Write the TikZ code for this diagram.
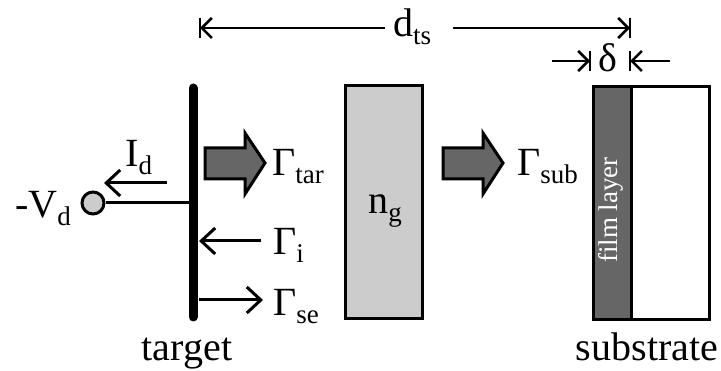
\documentclass[tikz,border=0pt]{standalone}
\usepackage{fontspec}
\setmainfont{Liberation Serif}
\usetikzlibrary{arrows.meta}
\definecolor{darkg}{HTML}{666666}
\definecolor{lightg}{HTML}{CCCCCC}
\newcommand{\sbs}[1]{\raisebox{-0.2em}{\fontsize{27}{27}\selectfont #1}}
\begin{document}
\begin{tikzpicture}[x=1pt,y=-1pt,
  lbl/.style={inner sep=0pt, font=\fontsize{40}{44}\selectfont},
  thin/.style={line width=3pt, -{Straight Barb[length=14pt,width=26pt,line width=3pt]}},
  dim/.style={line width=2.6pt, -{Straight Barb[length=10pt,width=20pt,line width=2.6pt]}},
  tick/.style={line width=2.6pt},
  box/.style={draw=black, line width=3pt},
  blockarrow/.style={draw=black, line width=3pt, fill=darkg, line join=miter}]
\useasboundingbox (0,0) rectangle (721,371);

% target bar
\coordinate (tt) at (193,88);
\coordinate (tb) at (193,317);
\draw[line width=9pt, line cap=round] (tt) -- (tb);

% gas box
\node[box, fill=lightg, minimum width=77pt, minimum height=233pt, inner sep=0pt] (gas) at (383.5,202) {};
\node[lbl, anchor=base] (ng) at (385,214) {n\sbs{g}};

% substrate with film
\node[box, fill=white, minimum width=116pt, minimum height=233pt, inner sep=0pt, anchor=north west] (sub) at (592,85.5) {};
\node[box, fill=darkg, minimum width=38pt, minimum height=233pt, inner sep=0pt, anchor=north west] (film) at (592,85.5) {};
\node[inner sep=0pt, text=white, rotate=90, font=\fontsize{27}{29}\selectfont] (fl) at (611,210) {film layer};

% block arrows
\draw[blockarrow] (205,148) -- (245,148) -- (245,133) -- (265,163) -- (245,194) -- (245,179) -- (205,179) -- cycle;
\draw[blockarrow] (443,148) -- (483,148) -- (483,133) -- (503,163) -- (483,194) -- (483,179) -- (443,179) -- cycle;

% labels
\node[lbl, anchor=base west] (gtar) at (272,176) {Γ\sbs{tar}};
\node[lbl, anchor=base west] (gsub) at (517,176) {Γ\sbs{sub}};
\node[lbl, anchor=base west] (gi) at (273,255) {Γ\sbs{i}};
\node[lbl, anchor=base west] (gse) at (273,316) {Γ\sbs{se}};
\node[lbl, anchor=base west] (id) at (125,167) {I\sbs{d}};
\node[lbl, anchor=base west] (vd) at (15,218) {-V\sbs{d}};
\node[lbl, anchor=base] (tgt) at (187,361) {target};
\node[lbl, anchor=base] (sst) at (647,361) {substrate};
\node[lbl, anchor=base west] (dts) at (393,37) {d\sbs{ts}};
\node[lbl, anchor=base west] (dl) at (598,72) {δ};

% electrode
\node[circle, draw=black, line width=3pt, fill=lightg, minimum size=22pt, inner sep=0pt] (pin) at (93,203) {};
\coordinate (pinb) at (193,203);
\draw[line width=3pt] (pin.east) -- (pinb);

% thin arrows
\coordinate (ida) at (167,183); \coordinate (idb) at (104,183);
\draw[thin] (ida) -- (idb);
\coordinate (gia) at (261,241); \coordinate (gib) at (199,241);
\draw[thin] (gia) -- (gib);
\coordinate (gsea) at (199,300); \coordinate (gseb) at (263,300);
\draw[thin] (gsea) -- (gseb);

% dts dimension
\coordinate (dL) at (200,28); \coordinate (dR) at (630,28);
\coordinate (dLs) at (385,28); \coordinate (dRs) at (453,28);
\draw[dim] (dLs) -- (dL);
\draw[dim] (dRs) -- (dR);
\draw[tick] (200,18) -- (200,38);
\draw[tick] (630,18) -- (630,38);

% delta dimension
\coordinate (eL) at (590,61); \coordinate (eR) at (630,61);
\coordinate (eLs) at (552,61); \coordinate (eRs) at (670,61);
\draw[dim] (eLs) -- (eL);
\draw[dim] (eRs) -- (eR);
\draw[tick] (590,51) -- (590,71);
\draw[tick] (630,51) -- (630,71);
\end{tikzpicture}
\end{document}
